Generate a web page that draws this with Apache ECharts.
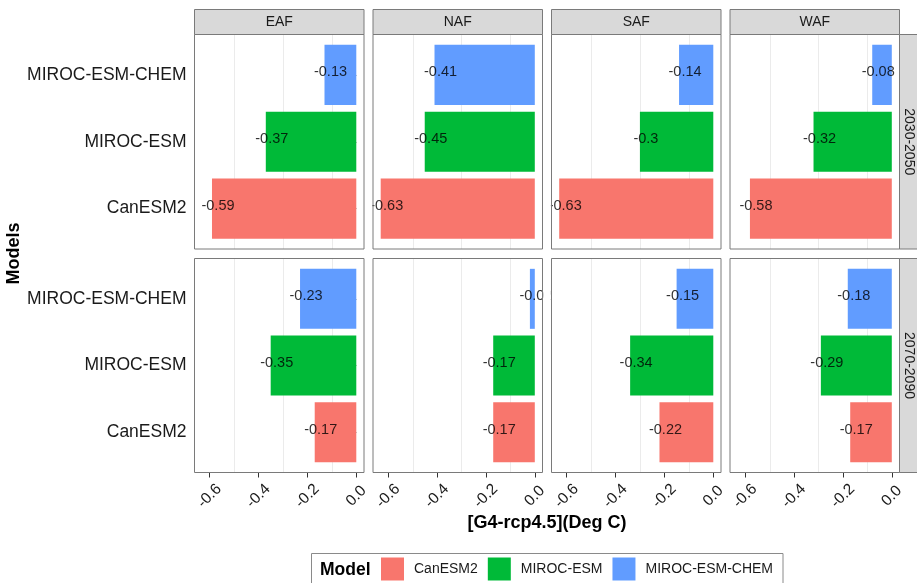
<!DOCTYPE html>
<html>
<head>
<meta charset="utf-8">
<script src="https://cdn.jsdelivr.net/npm/echarts@6/dist/echarts.min.js"></script>
<style>html,body{margin:0;padding:0;background:#fff}#c{width:917px;height:583px}</style>
</head>
<body>
<div id="c"></div>
<script>
// ---- data ----
const regions = ['EAF', 'NAF', 'SAF', 'WAF'];
const periods = ['2030-2050', '2070-2090'];
const models = ['CanESM2', 'MIROC-ESM', 'MIROC-ESM-CHEM'];
const modelColors = ['#F8766D', '#00BA38', '#619CFF'];
// values per region (EAF, NAF, SAF, WAF)
const canESM2_2030 = [-0.59, -0.63, -0.63, -0.58];
const mirocESM_2030 = [-0.37, -0.45, -0.3, -0.32];
const mirocChem_2030 = [-0.13, -0.41, -0.14, -0.08];
const canESM2_2070 = [-0.17, -0.17, -0.22, -0.17];
const mirocESM_2070 = [-0.35, -0.17, -0.34, -0.29];
const mirocChem_2070 = [-0.23, -0.02, -0.15, -0.18];
const xTicks = [-0.6, -0.4, -0.2, 0];
const minorGrid = [-0.5, -0.3, -0.1];
const xMin = -0.6615, xMax = 0.0315;

const valuesByPeriod = [
  [canESM2_2030, mirocESM_2030, mirocChem_2030],
  [canESM2_2070, mirocESM_2070, mirocChem_2070]
];

// ---- layout ----
const colLeft = [194.5, 373, 551.5, 730];
const panelW = 169.5;
const rowTop = [34.5, 258.5];
const panelH = [214.5, 214];
const inset = 7;

const grids = [], xAxes = [], yAxes = [], series = [], graphics = [];
const txt = '#1a1a1a';
const border = '#7a7a7a';
const ff = 'Liberation Sans, Arial, sans-serif';

for (let r = 0; r < 2; r++) {
  for (let c = 0; c < 4; c++) {
    const idx = r * 4 + c;
    grids.push({left: colLeft[c], top: rowTop[r] + inset, width: panelW, height: panelH[r] - 2 * inset, containLabel: false});
    xAxes.push({
      gridIndex: idx, type: 'value', min: xMin, max: xMax, offset: inset,
      axisLine: {show: false}, splitLine: {show: false},
      axisTick: {show: r === 1, customValues: xTicks, length: 5, lineStyle: {color: '#333'}},
      axisLabel: {show: r === 1, customValues: xTicks, rotate: 45, align: 'center', verticalAlign: 'middle',
        margin: 23.5, fontSize: 15.5, color: txt, fontFamily: ff,
        formatter: v => Number(v).toFixed(1)}
    });
    yAxes.push({
      gridIndex: idx, type: 'category', data: models,
      axisLine: {show: false}, splitLine: {show: false},
      axisTick: {show: c === 0, alignWithLabel: true, length: 5, lineStyle: {color: '#333'}},
      axisLabel: {show: c === 0, fontSize: 17.5, color: txt, margin: 8, fontFamily: ff}
    });
    // minor grid lines
    series.push({
      type: 'custom', xAxisIndex: idx, yAxisIndex: idx, z: 1, silent: true,
      data: minorGrid.map(v => [v]),
      renderItem: (params, api) => {
        const x = Math.round(api.coord([api.value(0), 0])[0]) + 0.5;
        const cs = params.coordSys;
        return {type: 'line', shape: {x1: x, y1: cs.y - inset, x2: x, y2: cs.y + cs.height + inset},
          style: {stroke: '#ebebeb', lineWidth: 1}};
      }
    });
    for (let m = 0; m < 3; m++) {
      const val = valuesByPeriod[r][m][c];
      const data = models.map((_, k) => (k === m ? val : '-'));
      series.push({
        type: 'bar', name: models[m], xAxisIndex: idx, yAxisIndex: idx, stack: 'p' + idx,
        barCategoryGap: '10%', z: 2, data: data,
        itemStyle: {color: modelColors[m]}, animation: false
      });
      series.push({
        type: 'scatter', name: 'lbl', xAxisIndex: idx, yAxisIndex: idx, z: 3,
        symbolSize: 2, itemStyle: {color: 'rgba(0,0,0,0)'}, silent: true,
        data: [[val, models[m]]],
        label: {show: true, position: 'inside', offset: [6, -2.5], fontSize: 14.5, color: '#000',
          fontFamily: ff, formatter: p => String(p.value[0])}
      });
    }
  }
}

// gap covers (clip labels at panel edges)
for (let r = 0; r < 2; r++) {
  for (let c = 0; c < 3; c++) {
    const x0 = colLeft[c] + panelW + 0.8;
    graphics.push({type: 'rect', z: 90, silent: true,
      shape: {x: x0, y: rowTop[r], width: colLeft[c + 1] - x0 - 0.6, height: panelH[r]},
      style: {fill: '#fff'}});
  }
}
// panel borders
for (let r = 0; r < 2; r++) {
  for (let c = 0; c < 4; c++) {
    graphics.push({type: 'rect', z: 100, silent: true,
      shape: {x: colLeft[c], y: rowTop[r], width: panelW, height: panelH[r]},
      style: {fill: 'none', stroke: border, lineWidth: 1}});
  }
}
// top strips
for (let c = 0; c < 4; c++) {
  graphics.push({type: 'rect', z: 100, silent: true,
    shape: {x: colLeft[c], y: 9.5, width: panelW, height: 25},
    style: {fill: '#d9d9d9', stroke: border, lineWidth: 1}});
  graphics.push({type: 'text', z: 101, silent: true, x: colLeft[c] + panelW / 2, y: 22.5,
    style: {text: regions[c], fill: txt, font: '14px "Liberation Sans", Arial, sans-serif', align: 'center', verticalAlign: 'middle'}});
}
// right strips
for (let r = 0; r < 2; r++) {
  graphics.push({type: 'rect', z: 100, silent: true,
    shape: {x: 899.5, y: rowTop[r], width: 25, height: panelH[r]},
    style: {fill: '#d9d9d9', stroke: border, lineWidth: 1}});
  graphics.push({type: 'text', z: 101, silent: true, x: 908.5, y: rowTop[r] + panelH[r] / 2, rotation: -Math.PI / 2,
    style: {text: periods[r], fill: txt, font: '14px "Liberation Sans", Arial, sans-serif', align: 'center', verticalAlign: 'middle'}});
}
// axis titles
graphics.push({type: 'text', z: 101, silent: true, x: 547, y: 523,
  style: {text: '[G4-rcp4.5](Deg C)', fill: '#000', font: 'bold 18px "Liberation Sans", Arial, sans-serif', align: 'center', verticalAlign: 'middle'}});
graphics.push({type: 'text', z: 101, silent: true, x: 14.5, y: 253.5, rotation: Math.PI / 2,
  style: {text: 'Models', fill: '#000', font: 'bold 18px "Liberation Sans", Arial, sans-serif', align: 'center', verticalAlign: 'middle'}});
// legend box and title
graphics.push({type: 'rect', z: 50, silent: true,
  shape: {x: 311.5, y: 553.5, width: 471.5, height: 40},
  style: {fill: '#fff', stroke: '#8a8a8a', lineWidth: 1}});
graphics.push({type: 'text', z: 101, silent: true, x: 320, y: 570,
  style: {text: 'Model', fill: '#000', font: 'bold 17.5px "Liberation Sans", Arial, sans-serif', align: 'left', verticalAlign: 'middle'}});

const option = {
  animation: false,
  backgroundColor: '#fff',
  grid: grids,
  xAxis: xAxes,
  yAxis: yAxes,
  legend: {
    data: models, left: 381, top: 557.5, padding: 0, itemWidth: 23, itemHeight: 23, itemGap: 10,
    icon: 'rect', selectedMode: false, z: 60,
    textStyle: {fontSize: 14, color: txt, padding: [0, 0, 0, 5], fontFamily: ff}
  },
  graphic: {elements: graphics},
  series: series
};
const chart = echarts.init(document.getElementById('c'), null, {renderer: 'canvas'});
chart.setOption(option);
</script>
</body>
</html>
